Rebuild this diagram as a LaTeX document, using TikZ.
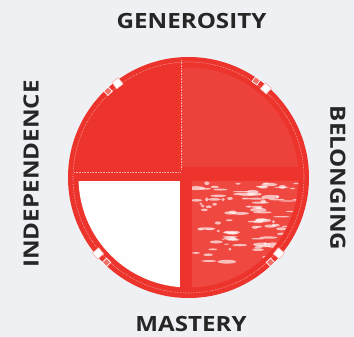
\documentclass[tikz,border=0pt]{standalone}
\usepackage{fontspec}
\setmainfont{Open Sans}
\newfontfamily\wordfont{Open Sans}[FakeStretch=1.15]
\definecolor{wheel}{RGB}{236,52,44}
\definecolor{paper}{RGB}{238,240,243}
\definecolor{ink}{RGB}{38,38,38}
\begin{document}
\begin{tikzpicture}[
 x=1pt,y=1pt,
 word/.style={font=\wordfont\fontsize{21}{21}\selectfont\bfseries,text=ink,inner sep=0pt},
 notch/.style={draw=wheel!40,fill=white,line width=.6pt,minimum size=8pt,inner sep=0pt},
 stud/.style={draw=white,fill=wheel!70!white,line width=.7pt,minimum size=6pt,inner sep=0pt},
 seam/.style={white,opacity=.6,line width=.6pt,dash pattern=on .6pt off 1pt}]
 \fill[paper] (0,0) rectangle (354,-337);
 \useasboundingbox (0,0) rectangle (354,-337);
 \coordinate (c) at (188.5,-177.5);
 % Red disc, the quarters are cut in below.
 \fill[wheel] (c) circle (120.5);
 \begin{scope}
  \clip (c) circle (110);
  % upper right quarter, a paler stipple
  \fill[wheel!93!white] (182,-50) rectangle (320,-167);
  % lower left quarter, left blank
  \fill[white!96!paper] (60,-181) rectangle (180,-300);
  % lower right quarter, mottled
  \begin{scope}
   \clip (192,-181) rectangle (320,-300);
   \fill[wheel!90!white] (192,-181) rectangle (320,-300);
   \pgfmathsetseed{11}
   \foreach \i in {1,...,110}{
    \pgfmathsetmacro\px{196+rnd*110}
    \pgfmathsetmacro\py{-183-rnd*80}
    \pgfmathsetmacro\ww{1.5+rnd*8}
    \pgfmathsetmacro\hh{.6+rnd*1.4}
    \fill[white,opacity=.65] (\px,\py) ellipse (\ww pt and \hh pt);
   }
  \end{scope}
 \end{scope}
 % dotted seams inside the rim and along the cross
 \draw[seam] (c) circle (115.5);
 \draw[seam] (181,-60) -- (181,-170);
 \draw[seam] (74,-172) -- (181,-172);
 % Notches on the rim.
 \foreach \a/\b in {127/133,49/55,220/226,320/314}{
  \node[notch,rotate=\a] (n\a) at ([shift={(\a:118)}]c) {};
  \node[stud,rotate=\b] (s\a) at ([shift={(\b:118)}]c) {};
 }
 % The four words.
 \node[word] (gen) at (191.5,-21) {GENEROSITY};
 \node[word] (mas) at (191,-323.5) {MASTERY};
 \node[word,rotate=90] (ind) at (31,-174) {INDEPENDENCE};
 \node[word,rotate=-90] (bel) at (338,-178) {BELONGING};
\end{tikzpicture}
\end{document}
